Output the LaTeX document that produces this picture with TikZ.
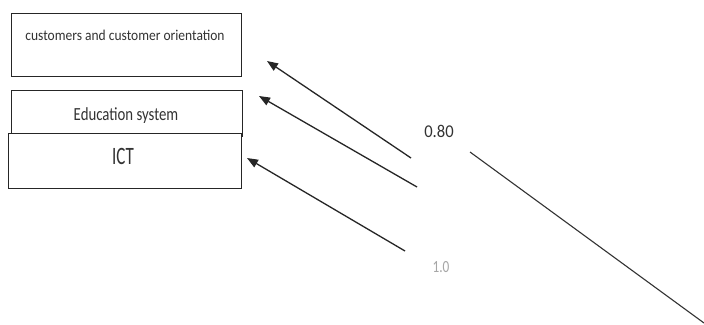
\documentclass[tikz,border=0pt]{standalone}
\usepackage{fontspec}
\setmainfont{Carlito}
\usetikzlibrary{arrows.meta}
\begin{document}
\begin{tikzpicture}[x=1pt,y=-1pt,
  box/.style={draw=black!85,line width=0.9pt,inner sep=0pt},
  arr/.style={draw=black!85,line width=1.3pt,-{Triangle[length=11pt,width=8.5pt]}},
  lbl/.style={inner sep=0pt}]
\useasboundingbox (0,0) rectangle (704,324);
\fill[white] (0,0) rectangle (704,324);
% boxes
\draw[box] (11,13) rectangle (241,76);
\node[lbl,text=black!80] (cust) at (125,35) {\scalebox{0.9}[1]{\fontsize{15}{17}\selectfont customers and customer orientation}};
\draw[box] (11,90) rectangle (242,136);
\node[lbl,text=black!80] (edu) at (126,116) {\scalebox{0.8}[1]{\fontsize{18.5}{20}\selectfont Education system}};
\draw[box,fill=white] (8,133) rectangle (241,188);
\node[lbl,text=black!80] (ict) at (123,156) {\scalebox{0.68}[1]{\fontsize{25}{28}\selectfont ICT}};
% arrow endpoints
\coordinate (t1) at (267,61);
\coordinate (s1) at (411,158);
\coordinate (t2) at (259,96);
\coordinate (s2) at (417,187);
\coordinate (t3) at (247,158);
\coordinate (s3) at (405,251);
\draw[arr] (s1) -- (t1);
\draw[arr] (s2) -- (t2);
\draw[arr] (s3) -- (t3);
\node[lbl,text=black!80] (v80) at (439,131) {\scalebox{0.92}[1]{\fontsize{18}{20}\selectfont 0.80}};
\node[lbl,text=black!35] (v10) at (441,267) {\scalebox{0.78}[1]{\fontsize{17}{19}\selectfont 1.0}};
\coordinate (l1) at (470,152);
\coordinate (l2) at (704,323);
\draw[draw=black!80,line width=1.1pt] (l1) -- (l2);
\end{tikzpicture}
\end{document}
